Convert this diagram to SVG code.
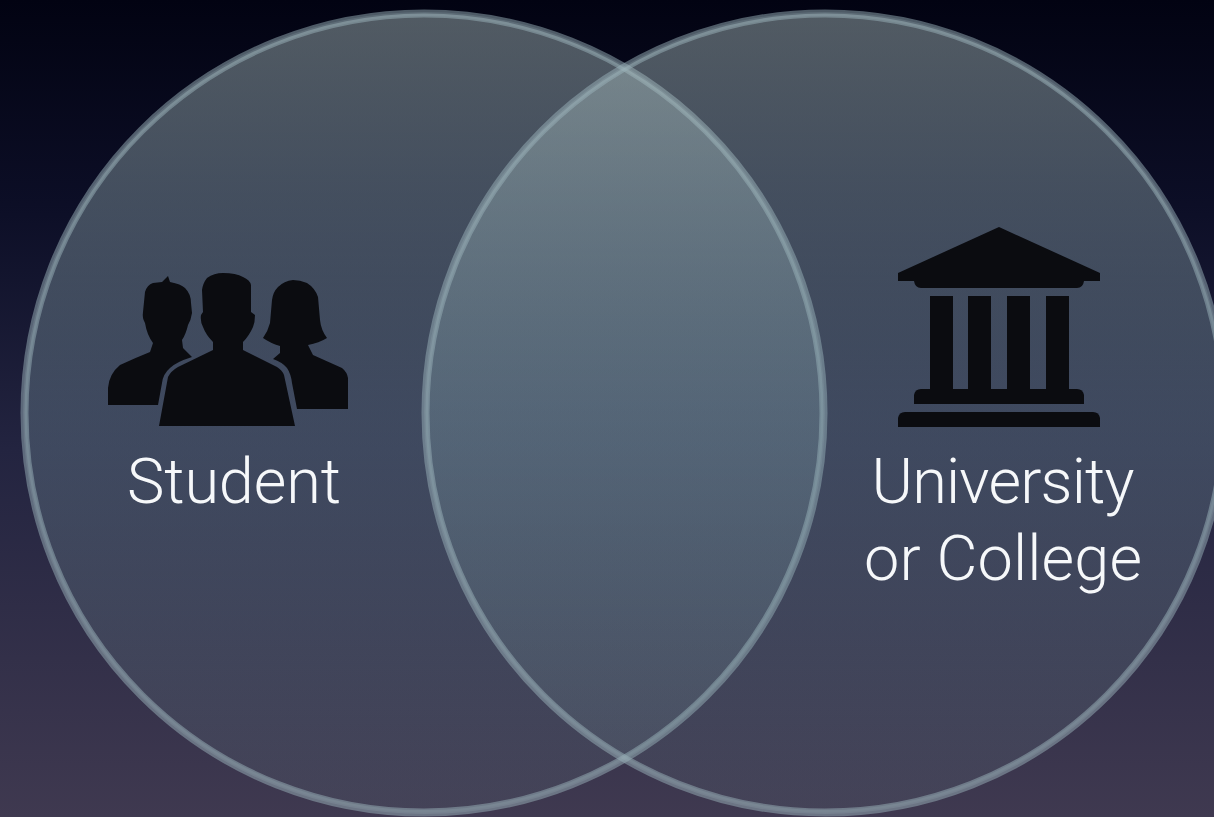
<svg xmlns="http://www.w3.org/2000/svg" width="1214" height="817" viewBox="0 0 1214 817">
<defs>
<linearGradient id="bg" x1="0" y1="0" x2="0" y2="1">
<stop offset="0" stop-color="#020312"/>
<stop offset="0.25" stop-color="#0c0e26"/>
<stop offset="0.55" stop-color="#232440"/>
<stop offset="1" stop-color="#3f3950"/>
</linearGradient>
<linearGradient id="disc" gradientUnits="userSpaceOnUse" x1="0" y1="10" x2="0" y2="812">
<stop offset="0" stop-color="#afc2c2" stop-opacity="0.46"/>
<stop offset="0.5" stop-color="#88a8b0" stop-opacity="0.30"/>
<stop offset="1" stop-color="#7ea8a8" stop-opacity="0.09"/>
</linearGradient>
</defs>
<style>
.disc{fill:url(#disc);stroke:#9ab2ba;stroke-opacity:.5;stroke-width:8}
.rim{fill:none;stroke:#a6bcc4;stroke-opacity:.18;stroke-width:4}
.icon{fill:#0b0c10}
.label{font-family:Roboto,"Liberation Sans",Arial,sans-serif;font-weight:300;font-size:63px;fill:#f6f8fa;text-anchor:middle}
</style>
<rect width="1214" height="817" fill="url(#bg)"/>
<g id="connectors"/>
<g id="student-circle"><circle class="disc" cx="424" cy="413" r="399.5"/><circle class="rim" cx="424" cy="413" r="399"/></g>
<g id="university-circle"><circle class="disc" cx="825" cy="413" r="399.5"/><circle class="rim" cx="825" cy="413" r="399"/></g>
<g id="student-icon" class="icon">
<path d="M108 405L108 388Q109 374 120 365Q135 358 150 352L153 343Q147 335 145 323Q142 318 143 312L145 292Q147 285 153 283L162 282L168 276L170 282Q181 284 185 288Q191 294 191 303L192 313Q191 320 188 325Q186 334 182 340L183 348L192 357Q176 362 170 368Q163 374 162 383L158 405Z"/>
<path d="M159 426L168 377Q171 371 178 367L213 350L213 342Q206 335 203 327Q200 321 201 315L203 312L202 290Q203 283 207 278Q214 273 223 273Q236 273 243 277Q250 280 251 285L251 312L255 315Q255 322 253 327Q249 336 243 342L243 350L277 367Q282 370 284 375L295 426Z"/>
<path d="M297 409L348 409L348 378Q347 372 342 368L313 355L308 345Q319 343 327 338Q321 330 320 320L318 297Q315 288 307 283Q300 280 293 280Q284 281 278 287Q273 292 272 300L270 323Q268 331 263 338Q270 343 280 346L280 353L273 359Q282 362 287 368Q291 374 292 383Z"/>
</g>
<g id="university-icon" class="icon">
<path d="M999 227L1100 273L1100 281L1084 281Q1083 288 1077 288L921 288Q915 288 914 281L898 281L898 273Z"/>
<rect x="930" y="296" width="23" height="94"/>
<rect x="968" y="296" width="23" height="94"/>
<rect x="1007" y="296" width="23" height="94"/>
<rect x="1046" y="296" width="23" height="94"/>
<path d="M914 404L914 395Q915 389 921 389L1077 389Q1083 389 1084 395L1084 404Z"/>
<path d="M898 427L898 418Q899 412 905 412L1093 412Q1099 412 1100 418L1100 427Z"/>
</g>
<g id="student-label"><text class="label" x="234" y="503" textLength="214">Student</text></g>
<g id="university-label"><text class="label" x="1003" y="503" textLength="263">University</text><text class="label" x="1003" y="580" textLength="278">or College</text></g>
</svg>
